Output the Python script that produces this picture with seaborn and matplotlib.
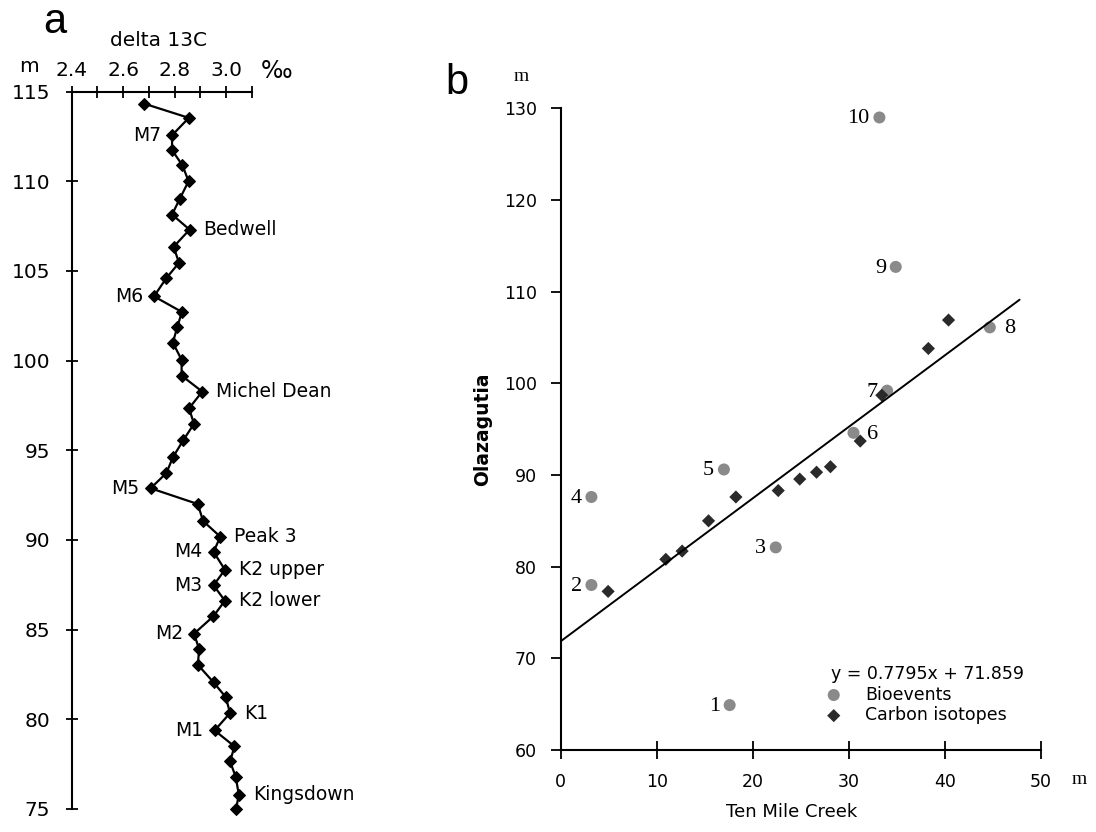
import numpy as np
import matplotlib
matplotlib.use("Agg")
import matplotlib.pyplot as plt
import seaborn as sns

sns.set_theme(style="ticks")
plt.rcParams['font.family'] = ['DejaVu Sans']
plt.rcParams['axes.linewidth'] = 1.5
plt.rcParams['text.color'] = 'black'
plt.rcParams['axes.labelcolor'] = 'black'
plt.rcParams['axes.edgecolor'] = 'black'

# panel a: delta 13C profile (Ten Mile Creek)
depth = [114.33, 113.53, 112.56, 111.73, 110.89, 110.0, 109.02, 108.14, 107.30, 106.34,
         105.45, 104.6, 103.58, 102.71, 101.85, 101.0, 100.04, 99.16, 98.27, 97.34,
         96.47, 95.55, 94.6, 93.73, 92.88, 92.0, 91.06, 90.18, 89.33, 88.34,
         87.47, 86.61, 85.74, 84.77, 83.92, 83.04, 82.06, 81.24, 80.35, 79.38,
         78.49, 77.65, 76.78, 75.79, 75.0]
d13c = [2.68, 2.855, 2.79, 2.79, 2.83, 2.854, 2.82, 2.79, 2.858, 2.796,
        2.817, 2.768, 2.72, 2.828, 2.81, 2.793, 2.827, 2.827, 2.907, 2.856,
        2.875, 2.833, 2.793, 2.768, 2.707, 2.89, 2.91, 2.977, 2.951, 2.995,
        2.951, 2.995, 2.95, 2.875, 2.895, 2.89, 2.951, 2.998, 3.015, 2.955,
        3.032, 3.015, 3.037, 3.049, 3.038]
event_names = ["M7", "Bedwell", "M6", "Michel Dean", "M5", "Peak 3", "M4", "K2 upper",
               "M3", "K2 lower", "M2", "K1", "M1", "Kingsdown"]
event_idx = [2, 8, 12, 18, 24, 27, 28, 29, 30, 31, 33, 38, 39, 43]
event_side = ["l", "r", "l", "r", "l", "r", "l", "r", "l", "r", "l", "r", "l", "r"]

# panel b: correlation Ten Mile Creek vs Olazagutia
bio_x = [17.6, 3.2, 22.4, 3.2, 17.0, 30.5, 34.0, 44.7, 34.9, 33.2]
bio_y = [64.9, 78.0, 82.1, 87.6, 90.6, 94.6, 99.2, 106.1, 112.7, 129.0]
bio_lab = ["1", "2", "3", "4", "5", "6", "7", "8", "9", "10"]
bio_side = ["l", "l", "l", "l", "l", "r", "l", "r", "l", "l"]
iso_x = [4.94, 10.95, 12.65, 15.4, 18.25, 22.66, 24.9, 26.65, 28.1, 31.2, 33.45, 38.3, 40.4]
iso_y = [77.3, 80.8, 81.7, 85.0, 87.6, 88.3, 89.55, 90.3, 90.9, 93.7, 98.7, 103.8, 106.9]
slope, intercept = 0.7795, 71.859
fit_x = np.array([0.0, 47.8])

W, H = 1096, 832
fig = plt.figure(figsize=(W / 100, H / 100), dpi=100)

def fx(px):
    return px / W

def fy(py):
    return 1 - py / H

# ---------------- panel a
ax = fig.add_axes([fx(71.5), fy(809), fx(252) - fx(71.5), fy(91.5) - fy(809)])
sns.lineplot(x=d13c, y=depth, sort=False, estimator=None, ax=ax, color="black",
             lw=1.6, marker="D", markersize=6, markeredgecolor="black", clip_on=False)
ax.set_xlim(2.4, 3.1)
ax.set_ylim(75, 115)
ax.spines['right'].set_visible(False)
ax.spines['bottom'].set_visible(False)
ax.xaxis.tick_top()
ax.set_xticks([2.4, 2.6, 2.8, 3.0])
ax.set_xticklabels(["2.4", "2.6", "2.8", "3.0"])
ax.set_xticks([2.5, 2.7, 2.9, 3.1], minor=True)
ax.set_yticks([75, 80, 85, 90, 95, 100, 105, 110, 115])
ax.tick_params(axis='x', which='both', direction='inout', length=8, width=1.3,
               pad=4, labelsize=14.5, colors='black')
ax.tick_params(axis='y', direction='inout', length=9, width=1.3, pad=11,
               labelsize=14.5, colors='black')
for name, i, side in zip(event_names, event_idx, event_side):
    off = 10 if side == "r" else -8
    ax.annotate(name, (d13c[i], depth[i]), xytext=(off, 0), textcoords="offset points",
                ha="left" if side == "r" else "right", va="center", fontsize=13.5)
fig.text(fx(158), fy(41), "delta 13C", ha="center", va="center", fontsize=14.5)
fig.text(fx(29), fy(67), "m", ha="center", va="center", fontsize=14.5)
fig.text(fx(277), fy(71), "‰", ha="center", va="center", fontsize=17)
fig.text(fx(55), fy(22), "a", ha="center", va="center", fontsize=30,
         family=['Liberation Sans'])

# ---------------- panel b
bx = fig.add_axes([fx(560.7), fy(750), fx(1040.7) - fx(560.7), fy(108.3) - fy(750)])
sns.lineplot(x=fit_x, y=slope * fit_x + intercept, ax=bx, color="black", lw=1.4)
sns.scatterplot(x=bio_x, y=bio_y, ax=bx, color="#8a8a8a", s=75, marker="o",
                edgecolor="none", label="Bioevents")
sns.scatterplot(x=iso_x, y=iso_y, ax=bx, color="#2a2a2a", s=45, marker="D",
                edgecolor="none", label="Carbon isotopes")
bx.set_xlim(0, 50)
bx.set_ylim(60, 130)
bx.set_xticks([0, 10, 20, 30, 40, 50])
bx.set_yticks([60, 70, 80, 90, 100, 110, 120, 130])
bx.spines['right'].set_visible(False)
bx.spines['top'].set_visible(False)
bx.tick_params(axis='x', direction='inout', length=13, width=1.3, pad=10,
               labelsize=12.5, colors='black')
bx.tick_params(axis='y', direction='out', length=7, width=1.3, pad=10,
               labelsize=12.5, colors='black')
for x, y, t, side in zip(bio_x, bio_y, bio_lab, bio_side):
    off = 10 if side == "r" else -7
    bx.annotate(t, (x, y), xytext=(off, -1), textcoords="offset points",
                ha="left" if side == "r" else "right", va="center", fontsize=16,
                family=['Liberation Serif'])
bx.text(0.482, -0.0966, "Ten Mile Creek", transform=bx.transAxes, ha="center",
        va="center", fontsize=13)
bx.text(-0.162, 0.5, "Olazagutia", transform=bx.transAxes, rotation=90, ha="center",
        va="center", fontsize=13.5, fontweight="bold")
leg = bx.legend(loc="upper left", bbox_to_anchor=(0.5625, 0.1325), frameon=False,
                title="y = 0.7795x + 71.859", alignment="left", fontsize=12.5,
                title_fontsize=12.5, handlelength=0.35, handletextpad=1.65,
                borderpad=0, labelspacing=0.15, borderaxespad=0)
for t in leg.get_texts():
    t.set_color("black")
leg.get_title().set_color("black")
fig.text(fx(521), fy(76.7), "m", ha="center", va="center", fontsize=14,
         family=['Liberation Serif'])
fig.text(fx(1079), fy(779), "m", ha="center", va="center", fontsize=14,
         family=['Liberation Serif'])
fig.text(fx(456.7), fy(83), "b", ha="center", va="center", fontsize=30,
         family=['Liberation Sans'])

fig.savefig("out.png", dpi=100)
